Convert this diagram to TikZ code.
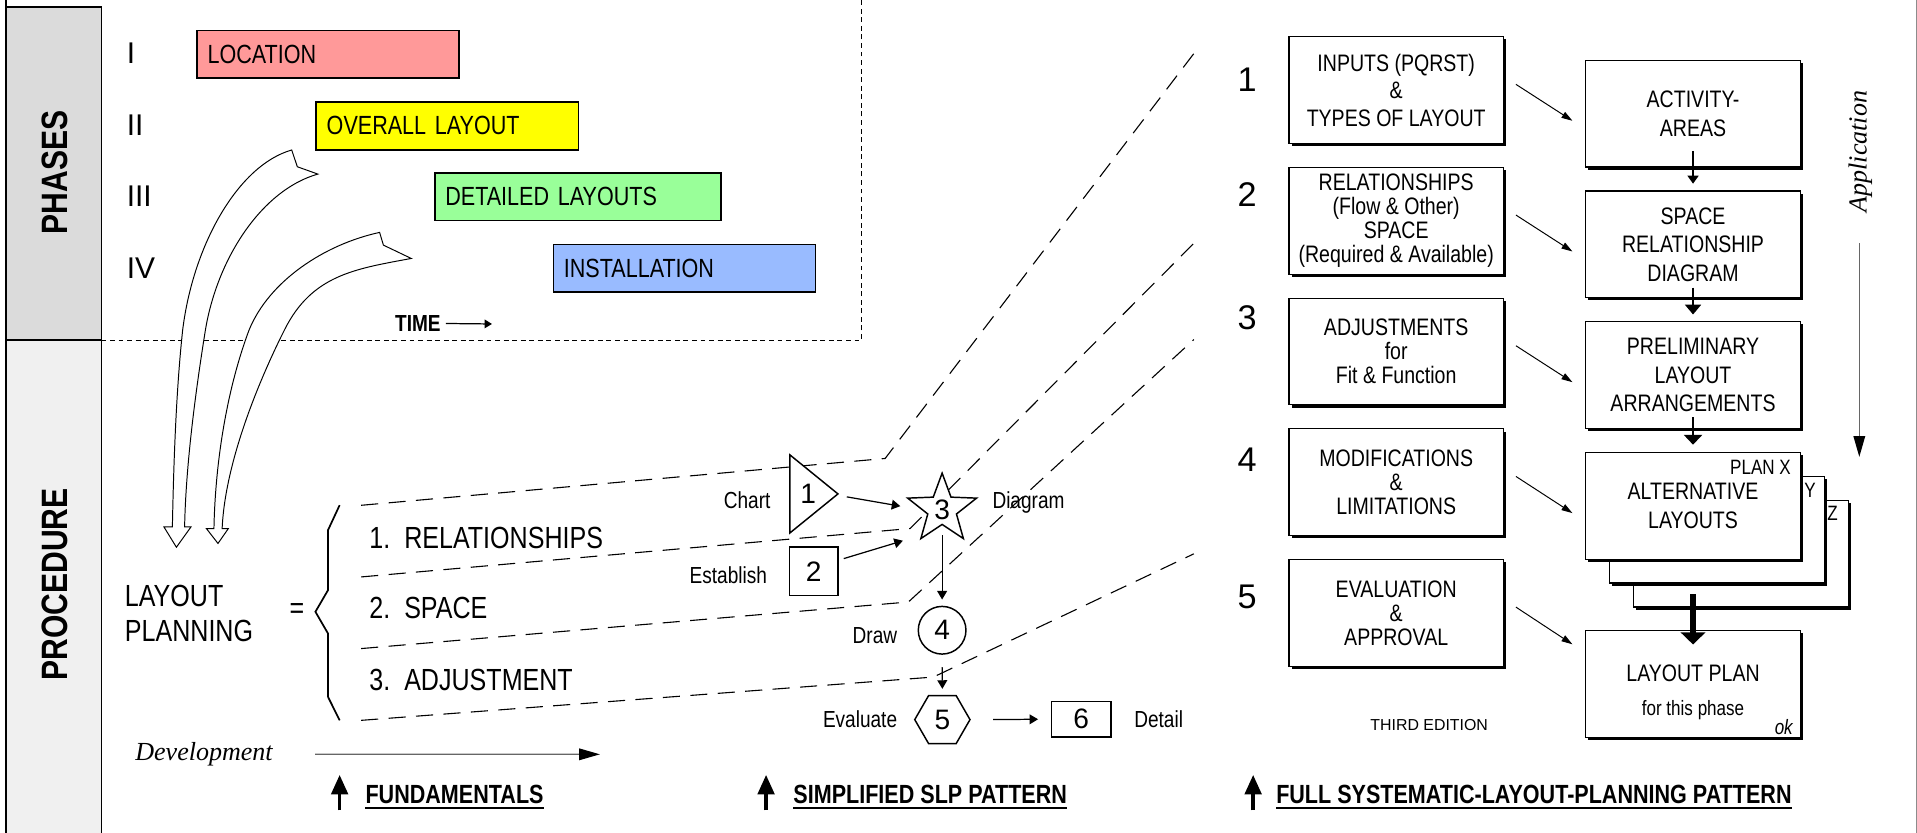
\documentclass[tikz,border=0pt]{standalone}
\usepackage{fontspec}
\setmainfont{Liberation Sans}
\newfontfamily\narrowfont{Liberation Sans}[FakeStretch=0.82]
\newfontfamily\timesfont{Liberation Serif}
\usetikzlibrary{arrows.meta,shapes.geometric,shadows,positioning,calc}
\definecolor{locpink}{RGB}{255,153,153}
\definecolor{layyellow}{RGB}{255,255,0}
\definecolor{detgreen}{RGB}{153,255,153}
\definecolor{instblue}{RGB}{153,187,255}
\newcommand{\fsz}[2]{\fontsize{#1}{#2}\selectfont}
\begin{document}
\begin{tikzpicture}[x=1pt, y=-1pt,
    txt/.style={inner sep=0pt, font=\narrowfont\fsz{19}{21}},
    bartxt/.style={draw, line width=1.3pt, minimum height=39pt, inner xsep=8.6pt, inner ysep=0pt, anchor=west, align=left, font=\narrowfont\fsz{21.5}{24}},
    numeral/.style={inner sep=0pt, anchor=west, font=\fsz{24.5}{26}},
    sidetxt/.style={inner sep=0pt, rotate=90, font=\narrowfont\bfseries\fsz{30}{32}},
    bigtxt/.style={inner sep=0pt, font=\narrowfont\fsz{25}{29}},
    digit/.style={inner sep=0pt, font=\fsz{23}{24}},
    slpshape/.style={draw, line width=1.2pt, fill=white, inner sep=0pt},
    slparrow/.style={-{Triangle[length=7pt,width=8pt]}, line width=1pt},
    longdash/.style={line width=0.9pt, dash pattern=on 14pt off 8.5pt},
    shortdash/.style={line width=0.9pt, dash pattern=on 4pt off 3pt},
    hollow/.style={line width=0.8pt, fill=white},
    stepbox/.style={draw, line width=1pt, fill=white, minimum width=175.5pt, minimum height=87.3pt, inner sep=0pt, align=center, font=\narrowfont\fsz{19.5}{19.7}, drop shadow={shadow xshift=2.2pt, shadow yshift=-2.2pt, fill=black, opacity=1}},
    planbox/.style={stepbox, font=\narrowfont\fsz{19.5}{23.3}},
    stepnum/.style={inner sep=0pt, font=\fsz{28}{30}},
    smalltxt/.style={inner sep=0pt, font=\narrowfont\fsz{17}{19}},
    slanttxt/.style={inner sep=0pt, font=\timesfont\itshape\fsz{21.3}{23}},
    heading/.style={inner sep=0pt, anchor=base west, font=\narrowfont\bfseries\fsz{21.5}{24}},
    uparrow/.style={-{Triangle[length=16pt,width=13.5pt]}, line width=3pt},
    thinarrow/.style={-{Triangle[length=9pt,width=5.5pt]}, line width=0.8pt},
    grayarrow/.style={-{Triangle[length=17pt,width=9.5pt,black]}, line width=1pt, draw=black!60},
  ]
  \useasboundingbox (0,0) rectangle (1568,681.3);
  %side bar
  \draw[line width=1.5pt, fill=black!14] (5,5.5) rectangle (83,278.2);
  \draw[line width=1.5pt, fill=black!6] (5,278.2) rectangle (83,690);
  \draw[line width=1.5pt] (5,0) -- (5,5.5);
  \node[sidetxt] (phases) at (45,141) {PHASES};
  \node[sidetxt] (procedure) at (45,478) {PROCEDURE};
  \draw[black!45, line width=1pt] (1567.3,0) -- (1567.3,690);

  %phases
  \draw[shortdash] (83,278.2) -- (705,278.2) -- (705,0);
  \foreach \r/\y in {I/43.5,II/102,III/160.5,IV/219}
    \node[numeral] (ph\r) at (103.5,\y) {\r};
  \node[bartxt, fill=locpink, text width=197.3pt] (location) at (160.5,44.5) {LOCATION};
  \node[bartxt, fill=layyellow, text width=197.3pt] (overall) at (258,103) {OVERALL LAYOUT};
  \node[bartxt, fill=detgreen, text width=216.8pt] (detailed) at (355,161) {DETAILED LAYOUTS};
  \node[bartxt, fill=instblue, text width=197.3pt] (install) at (452,219.5) {INSTALLATION};
  \node[txt, anchor=west, font=\narrowfont\bfseries\fsz{19}{20}] (time) at (323,264.6) {TIME};
  \coordinate (timeend) at (402.4,265);
  \draw[-{Triangle[length=6pt,width=7pt]}, line width=1pt] ([xshift=4pt]time.east) -- (timeend);

  %hollow arrows down to the procedure
  \draw[hollow] (238.6,122.7) .. controls (195,135) and (158,200) .. (149.4,270)
      .. controls (144,320) and (142,380) .. (141,431) -- (134.1,431) -- (144.3,447.6) -- (156.2,431) -- (151,431)
      .. controls (152,380) and (160,320) .. (168,270) .. controls (178,210) and (215,155) .. (260,142.4)
      -- (243.2,136.4) -- cycle;
  \draw[hollow] (310.5,190.1) .. controls (265,200) and (220,230) .. (203.7,270)
      .. controls (185,320) and (176,380) .. (175,432.3) -- (168.8,432.3) -- (178.3,444.5) -- (186.8,432.3) -- (181.7,432.3)
      .. controls (184,380) and (210,315) .. (232.6,270) .. controls (255,225) and (290,220) .. (336.4,211.4)
      -- (313.6,200.5) -- cycle;

  %fundamentals
  \node[bigtxt, anchor=west, align=left] (lp) at (102,502) {LAYOUT\\PLANNING};
  \node[bigtxt, anchor=base] (eq) at (242.8,506.3) {=};
  \draw[line width=1.4pt] (277.8,413.2) -- (268.3,433.6) -- (268.3,482.7) -- (258,500.4)
      -- (268.3,518.2) -- (268.3,570) -- (277.8,589.2);
  \foreach \n/\t/\y in {1/RELATIONSHIPS/448.6, 2/SPACE/506.2, 3/ADJUSTMENT/564.4}
    \node[bigtxt, anchor=base west] (item\n) at (302,\y) {\n.\ \ \t};
  \draw[longdash] (295.4,413.3) -- (724,375) -- (976.5,43.8);
  \draw[longdash] (295.4,471.9) -- (744.4,432.3) -- (976.5,199);
  \draw[longdash] (295.4,530.5) -- (743,492.4) -- (976.5,277.7);
  \draw[longdash] (295.4,589.2) -- (763.4,553.8) -- (976.5,453);
  \node[slanttxt, anchor=base west] (dev) at (110.5,622) {Development};
  \coordinate (devend) at (490.7,617);
  \draw[grayarrow] ([xshift=34.5pt]dev.east) -- (devend);

  %simplified pattern
  \draw[slpshape] (646,372) -- (685.4,404) coordinate (t1tip) -- (646,436) -- cycle;
  \node[digit] (n1) at (661,404) {1};
  \node[digit, slpshape, minimum size=39.5pt] (b2) at (665.6,467.2) {2};
  \node[digit, slpshape, star, star points=5, star point ratio=2.4, minimum size=59.2pt] (s3) at (770.6,416.6) {3};
  \node[digit, slpshape, circle, minimum size=39pt] (c4) at (770.6,515.5) {4};
  \node[digit, slpshape, regular polygon, regular polygon sides=6, minimum size=45.2pt] (h5) at (770.8,588.6) {5};
  \node[digit, slpshape, minimum width=49pt, minimum height=29.3pt] (b6) at (884.4,588.3) {6};
  \node[txt, anchor=east] (chart) at (630.4,409) {Chart};
  \node[txt, anchor=east] (establish) at (627.5,470.5) {Establish};
  \node[txt, anchor=west] (diagram) at (811.6,411) {Diagram};
  \node[txt, anchor=east] (draw) at (734,520.3) {Draw};
  \node[txt, anchor=east] (evaluate) at (734,588) {Evaluate};
  \node[txt, anchor=west] (detail) at (927.6,588) {Detail};
  \draw[slparrow] ($(t1tip)+(7.2,2.4)$) -- ($(s3.center)+(-34.2,-2.6)$);
  \draw[slparrow] ($(b2.east)+(4.2,-10.3)$) -- ($(s3.center)+(-32.1,25.7)$);
  \draw[slparrow] ($(s3.center)+(0,21.1)$) -- ($(c4.north)+(0,-5)$);
  \draw[slparrow] ($(c4.south)+(0,10)$) -- ($(h5.north)+(0,-5)$);
  \draw[slparrow] ($(h5.east)+(18.2,0)$) -- ($(b6.west)+(-10.2,0)$);

  %full pattern
  \foreach \n/\y in {1/65,2/159,3/260,4/376,5/488}
    \node[stepnum] (num\n) at (1020,\y) {\n};
  \node[stepbox] (lA) at (1142,73.7) {INPUTS (PQRST)\\[2.8pt]\&\\[2.8pt]TYPES OF LAYOUT};
  \node[stepbox] (lB) at (1142,180.6) {RELATIONSHIPS\\(Flow \& Other)\\SPACE\\(Required \& Available)};
  \node[stepbox] (lC) at (1142,287.5) {ADJUSTMENTS\\for\\Fit \& Function};
  \node[stepbox] (lD) at (1142,394.4) {MODIFICATIONS\\\&\\LIMITATIONS};
  \node[stepbox] (lE) at (1142,501.3) {EVALUATION\\\&\\APPROVAL};
  \node[planbox] (rA) at (1384.8,93) {ACTIVITY-\\AREAS};
  \node[planbox] (rB) at (1384.8,199.9) {SPACE\\RELATIONSHIP\\DIAGRAM};
  \node[planbox] (rC) at (1384.8,306.8) {PRELIMINARY\\LAYOUT\\ARRANGEMENTS};
  \node[planbox] (rZ) at (1424,452.8) {};
  \node[planbox] (rY) at (1404.4,433.3) {};
  \node[planbox] (rD) at (1384.8,413.9) {ALTERNATIVE\\LAYOUTS};
  \node[planbox] (rE) at (1384.8,559.5) {};
  \node[smalltxt, anchor=east] (planx) at (1465,382) {PLAN X};
  \node[smalltxt] (plany) at (1480.5,401) {Y};
  \node[smalltxt] (planz) at (1499,420) {Z};
  \node[txt, font=\narrowfont\fsz{19.5}{21}] (plan) at (1384.8,551) {LAYOUT PLAN};
  \node[smalltxt] (phase) at (1384.8,581) {for this phase};
  \node[smalltxt, font=\narrowfont\itshape\fsz{17}{19}] (ok) at (1459,594.7) {ok};
  \node[inner sep=0pt, font=\fsz{13}{14}] (edition) at (1169,593.3) {THIRD EDITION};
  \draw[-{Triangle[length=6.5pt,width=9pt]}, line width=1pt] ($(rA.south)+(0,-13.7)$) -- ($(rB.north)+(0,-5.5)$);
  \draw[-{Triangle[length=8pt,width=13pt]}, line width=1.5pt] ($(rB.south)+(0,-8.7)$) -- ($(rC.north)+(0,-5.4)$);
  \draw[-{Triangle[length=8pt,width=14.6pt]}, line width=2pt] ($(rC.south)+(0,-9.5)$) -- ($(rD.north)+(0,-6)$);
  \draw[-{Triangle[length=10pt,width=20pt]}, line width=5pt] ($(rZ.south -| rE.north)+(0,-10.9)$) -- ($(rE.north)+(0,11.8)$);
  \foreach \a/\b/\e in {lA/rA/5.8, lB/rB/5.8, lC/rC/5.8, lD/rD/5.8, lE/rE/-32.5}
    \draw[thinarrow] ($(\a.east)+(9.7,-4.7)$) -- ($(\b.west)+(-10.4,\e)$);
  \node[slanttxt, rotate=90] (app) at (1521.6,124) {Application};
  \coordinate (append) at (1520.8,373.7);
  \draw[grayarrow] ($(app.west)+(-0.8,25)$) -- (append);

  %headings
  \node[heading] (fund) at (298.8,657.3) {FUNDAMENTALS};
  \node[heading] (simp) at (648.8,657.3) {SIMPLIFIED SLP PATTERN};
  \node[heading] (full) at (1043.7,657.3) {FULL SYSTEMATIC-LAYOUT-PLANNING PATTERN};
  \foreach \h/\d in {fund/21pt, simp/22.2pt, full/18.7pt} {
    \draw[line width=1.5pt] ([yshift=-3.3pt]\h.base west) -- ([yshift=-3.3pt]\h.base east);
    \draw[uparrow] ([shift={(-\d,-5.5pt)}]\h.base west) -- ([shift={(-\d,23.5pt)}]\h.base west);
  }
\end{tikzpicture}
\end{document}
